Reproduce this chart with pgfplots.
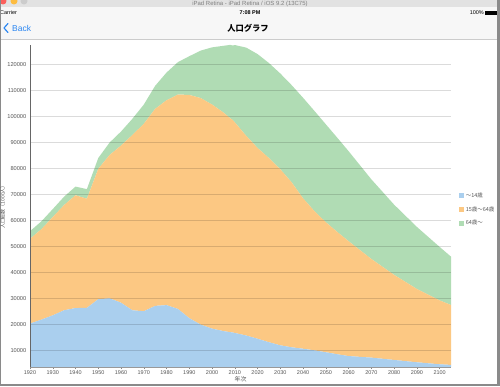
\documentclass[border=0pt]{standalone}
\usepackage{fontspec}
\setmainfont{Liberation Sans}
\newfontfamily\jp{Noto Sans CJK JP}
\usepackage{pgfplots}
\usepackage{pgfplotstable}
\pgfplotsset{compat=1.18}
\definecolor{cblue}{HTML}{AACFEE}
\definecolor{corange}{HTML}{FCC883}
\definecolor{cgreen}{HTML}{B0DCB4}
\definecolor{ticktext}{HTML}{555555}
\definecolor{iosblue}{HTML}{2A86F2}
\definecolor{barbg}{HTML}{F7F7F7}
\definecolor{winbar}{HTML}{E2E2E2}
\definecolor{tlred}{HTML}{FC605C}
\definecolor{tlorange}{HTML}{FDBC40}
\definecolor{tlgray}{HTML}{CCCCCC}
\definecolor{sepline}{HTML}{CCCCCC}
\definecolor{framec}{HTML}{8A8A8A}
\definecolor{xaxisc}{HTML}{999999}
\definecolor{yaxisc}{HTML}{666666}
\definecolor{xtickc}{HTML}{888888}

\pgfplotstableread{
year a b c
1920 20416 32605 2941
1925 21924 34792 3021
1930 23579 37807 3064
1935 25545 40484 3225
1940 26383 43400 3331
1945 26477 41970 3700
1950 29786 50168 4155
1955 30123 55167 4786
1960 28434 60469 5398
1965 25529 67444 6236
1970 25153 72119 7393
1975 27221 75807 8865
1980 27507 78835 10647
1985 26033 82506 12468
1990 22486 85904 14895
1995 20014 87165 18261
2000 18472 86220 22005
2005 17521 84092 25672
2008 17100 82300 28250
2009 17000 81800 28600
2010 16803 81032 29750
2015 15827 76818 33952
2020 14568 73408 36124
2025 13240 70845 36573
2030 12039 67730 36849
2035 11287 63430 37407
2040 10732 57866 38678
2045 10116 53531 38564
2050 9387 50013 37676
2055 8614 47063 36257
2060 7912 44183 34642
2070 7310 37950 30640
2080 6410 32740 27010
2090 5520 28200 23880
2100 4750 24570 20580
2105 4500 23070 18590
}\pop

\begin{document}
\begin{tikzpicture}[x=1bp,y=1bp]
\useasboundingbox (0,0) rectangle (500,386);
\fill[white] (0,0) rectangle (500,386);
% window bar
\fill[winbar] (0,379) rectangle (500,386);
\fill[tlred] (3,385) circle (3.5);
\fill[tlorange] (14,385) circle (3.5);
\fill[tlgray] (24,385) circle (3.5);
\node[font=\fontsize{6}{6}\selectfont, text=gray] at (250,382.5) {iPad Retina - iPad Retina / iOS 9.2 (13C75)};
% status + nav bar
\fill[barbg] (0,347) rectangle (500,379);
\draw[sepline, line width=0.6] (0,346.7) -- (500,346.7);
\node[font=\fontsize{5.5}{6}\selectfont, anchor=west, inner sep=0] at (0,373.3) {Carrier};
\node[font=\fontsize{5.5}{6}\selectfont\bfseries, inner sep=0] at (250,373.3) {7:08 PM};
\node[font=\fontsize{5.5}{6}\selectfont, anchor=east, inner sep=0] at (484,373.3) {100\%};
\draw[line width=0.5] (485.5,371.5) rectangle (496,375);
\fill (485.5,371.5) rectangle (496,375);
\fill (496,372.3) rectangle (497,374.2);
\draw[iosblue, line width=1.2, line cap=round, line join=round] (8,362.5) -- (4,358) -- (8,353.5);
\node[font=\fontsize{8.5}{9}\selectfont, text=iosblue, anchor=west, inner sep=0] at (12,358) {Back};
\node[font=\jp\fontsize{8.3}{9}\selectfont\bfseries, inner sep=0] at (248,358) {人口グラフ};
% frame
\fill[framec] (0,0) rectangle (500,2.5);
\fill[framec] (497,0) rectangle (500,386);
\fill[framec] (0,0) rectangle (1,386);

\begin{axis}[
  name=main,
  at={(30bp,19bp)}, anchor=south west,
  width=421bp, height=322bp, scale only axis,
  xmin=1920, xmax=2105, ymin=3700, ymax=127600,
  stack plots=y,
  axis on top,
  every non boxed x axis/.style={}, every non boxed y axis/.style={},
  axis x line=bottom, axis y line=left,
  x axis line style={-, draw=xaxisc, line width=0.8bp},
  y axis line style={-, draw=yaxisc, line width=0.8bp},
  xtick={1920,1930,...,2100},
  ytick={10000,20000,...,120000},
  ymajorgrids,
  major grid style={draw=black, opacity=0.14, line width=1bp},
  tick align=outside,
  major tick length=2bp,
  xtick style={draw=xtickc, line width=0.5bp},
  ytick style={draw=none},
  scaled y ticks=false,
  /pgf/number format/.cd, fixed, precision=0, 1000 sep={}, assume math mode=true,
  /pgfplots/.cd,
  xticklabel style={font=\fontsize{5.5}{6}\selectfont, text=ticktext, inner sep=1.5bp},
  yticklabel style={font=\fontsize{5.7}{6}\selectfont, text=ticktext, inner sep=1.5bp},
  xlabel={\jp 年次},
  xlabel style={font=\fontsize{6}{6}\selectfont, text=ticktext, inner sep=0.5bp},
  ylabel={\jp 人口総数（1000人）},
  ylabel style={font=\fontsize{5}{5}\selectfont, text=ticktext, inner sep=0.5bp},
  legend style={at={(1.018,0.489)}, anchor=west, draw=none, fill=none,
    font=\jp\fontsize{5.5}{6}\selectfont, text=ticktext, inner sep=0pt,
    row sep=3.5bp, cells={anchor=west}},
  legend image code/.code={\fill[#1] (0bp,-2.5bp) rectangle (5bp,2.5bp);},
]
\addplot[fill=cblue, draw=none] table[x=year, y=a] {\pop} \closedcycle;
\addlegendentry{〜14歳}
\addplot[fill=corange, draw=none] table[x=year, y=b] {\pop} \closedcycle;
\addlegendentry{15歳〜64歳}
\addplot[fill=cgreen, draw=none] table[x=year, y=c] {\pop} \closedcycle;
\addlegendentry{64歳〜}
\end{axis}
\end{tikzpicture}
\end{document}
